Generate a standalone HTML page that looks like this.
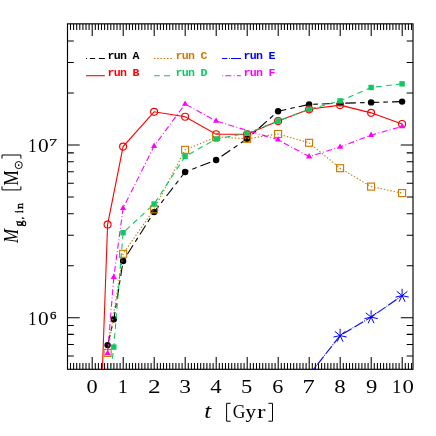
<!DOCTYPE html>
<html><head><meta charset="utf-8"><title>plot</title>
<style>html,body{margin:0;padding:0;background:#fff;}svg{display:block;will-change:transform;}text{font-family:"Liberation Serif",serif;fill:#000;}.m{font-family:"Liberation Mono",monospace;font-weight:bold;font-size:11.6px;letter-spacing:-0.72px;}</style>
</head><body>
<svg width="436" height="436" viewBox="0 0 436 436">
<rect x="0" y="0" width="436" height="436" fill="#fff"/>
<defs><clipPath id="c"><rect x="67.50" y="23.85" width="345.50" height="345.45"/></clipPath></defs>
<path d="M70.50 23.85v6.20M70.50 369.30v-6.20M73.60 23.85v6.20M73.60 369.30v-6.20M76.70 23.85v6.20M76.70 369.30v-6.20M79.80 23.85v6.20M79.80 369.30v-6.20M82.90 23.85v6.20M82.90 369.30v-6.20M86.00 23.85v6.20M86.00 369.30v-6.20M89.10 23.85v6.20M89.10 369.30v-6.20M92.20 23.85v12.20M92.20 369.30v-12.20M95.30 23.85v6.20M95.30 369.30v-6.20M98.40 23.85v6.20M98.40 369.30v-6.20M101.50 23.85v6.20M101.50 369.30v-6.20M104.60 23.85v6.20M104.60 369.30v-6.20M107.70 23.85v6.20M107.70 369.30v-6.20M110.80 23.85v6.20M110.80 369.30v-6.20M113.90 23.85v6.20M113.90 369.30v-6.20M117.00 23.85v6.20M117.00 369.30v-6.20M120.10 23.85v6.20M120.10 369.30v-6.20M123.20 23.85v12.20M123.20 369.30v-12.20M126.30 23.85v6.20M126.30 369.30v-6.20M129.40 23.85v6.20M129.40 369.30v-6.20M132.50 23.85v6.20M132.50 369.30v-6.20M135.60 23.85v6.20M135.60 369.30v-6.20M138.70 23.85v6.20M138.70 369.30v-6.20M141.80 23.85v6.20M141.80 369.30v-6.20M144.90 23.85v6.20M144.90 369.30v-6.20M148.00 23.85v6.20M148.00 369.30v-6.20M151.10 23.85v6.20M151.10 369.30v-6.20M154.20 23.85v12.20M154.20 369.30v-12.20M157.30 23.85v6.20M157.30 369.30v-6.20M160.40 23.85v6.20M160.40 369.30v-6.20M163.50 23.85v6.20M163.50 369.30v-6.20M166.60 23.85v6.20M166.60 369.30v-6.20M169.70 23.85v6.20M169.70 369.30v-6.20M172.80 23.85v6.20M172.80 369.30v-6.20M175.90 23.85v6.20M175.90 369.30v-6.20M179.00 23.85v6.20M179.00 369.30v-6.20M182.10 23.85v6.20M182.10 369.30v-6.20M185.20 23.85v12.20M185.20 369.30v-12.20M188.30 23.85v6.20M188.30 369.30v-6.20M191.40 23.85v6.20M191.40 369.30v-6.20M194.50 23.85v6.20M194.50 369.30v-6.20M197.60 23.85v6.20M197.60 369.30v-6.20M200.70 23.85v6.20M200.70 369.30v-6.20M203.80 23.85v6.20M203.80 369.30v-6.20M206.90 23.85v6.20M206.90 369.30v-6.20M210.00 23.85v6.20M210.00 369.30v-6.20M213.10 23.85v6.20M213.10 369.30v-6.20M216.20 23.85v12.20M216.20 369.30v-12.20M219.30 23.85v6.20M219.30 369.30v-6.20M222.40 23.85v6.20M222.40 369.30v-6.20M225.50 23.85v6.20M225.50 369.30v-6.20M228.60 23.85v6.20M228.60 369.30v-6.20M231.70 23.85v6.20M231.70 369.30v-6.20M234.80 23.85v6.20M234.80 369.30v-6.20M237.90 23.85v6.20M237.90 369.30v-6.20M241.00 23.85v6.20M241.00 369.30v-6.20M244.10 23.85v6.20M244.10 369.30v-6.20M247.20 23.85v12.20M247.20 369.30v-12.20M250.30 23.85v6.20M250.30 369.30v-6.20M253.40 23.85v6.20M253.40 369.30v-6.20M256.50 23.85v6.20M256.50 369.30v-6.20M259.60 23.85v6.20M259.60 369.30v-6.20M262.70 23.85v6.20M262.70 369.30v-6.20M265.80 23.85v6.20M265.80 369.30v-6.20M268.90 23.85v6.20M268.90 369.30v-6.20M272.00 23.85v6.20M272.00 369.30v-6.20M275.10 23.85v6.20M275.10 369.30v-6.20M278.20 23.85v12.20M278.20 369.30v-12.20M281.30 23.85v6.20M281.30 369.30v-6.20M284.40 23.85v6.20M284.40 369.30v-6.20M287.50 23.85v6.20M287.50 369.30v-6.20M290.60 23.85v6.20M290.60 369.30v-6.20M293.70 23.85v6.20M293.70 369.30v-6.20M296.80 23.85v6.20M296.80 369.30v-6.20M299.90 23.85v6.20M299.90 369.30v-6.20M303.00 23.85v6.20M303.00 369.30v-6.20M306.10 23.85v6.20M306.10 369.30v-6.20M309.20 23.85v12.20M309.20 369.30v-12.20M312.30 23.85v6.20M312.30 369.30v-6.20M315.40 23.85v6.20M315.40 369.30v-6.20M318.50 23.85v6.20M318.50 369.30v-6.20M321.60 23.85v6.20M321.60 369.30v-6.20M324.70 23.85v6.20M324.70 369.30v-6.20M327.80 23.85v6.20M327.80 369.30v-6.20M330.90 23.85v6.20M330.90 369.30v-6.20M334.00 23.85v6.20M334.00 369.30v-6.20M337.10 23.85v6.20M337.10 369.30v-6.20M340.20 23.85v12.20M340.20 369.30v-12.20M343.30 23.85v6.20M343.30 369.30v-6.20M346.40 23.85v6.20M346.40 369.30v-6.20M349.50 23.85v6.20M349.50 369.30v-6.20M352.60 23.85v6.20M352.60 369.30v-6.20M355.70 23.85v6.20M355.70 369.30v-6.20M358.80 23.85v6.20M358.80 369.30v-6.20M361.90 23.85v6.20M361.90 369.30v-6.20M365.00 23.85v6.20M365.00 369.30v-6.20M368.10 23.85v6.20M368.10 369.30v-6.20M371.20 23.85v12.20M371.20 369.30v-12.20M374.30 23.85v6.20M374.30 369.30v-6.20M377.40 23.85v6.20M377.40 369.30v-6.20M380.50 23.85v6.20M380.50 369.30v-6.20M383.60 23.85v6.20M383.60 369.30v-6.20M386.70 23.85v6.20M386.70 369.30v-6.20M389.80 23.85v6.20M389.80 369.30v-6.20M392.90 23.85v6.20M392.90 369.30v-6.20M396.00 23.85v6.20M396.00 369.30v-6.20M399.10 23.85v6.20M399.10 369.30v-6.20M402.20 23.85v12.20M402.20 369.30v-12.20M405.30 23.85v6.20M405.30 369.30v-6.20M408.40 23.85v6.20M408.40 369.30v-6.20M411.50 23.85v6.20M411.50 369.30v-6.20M67.50 355.96h6.30M413.00 355.96h-6.30M67.50 344.40h6.30M413.00 344.40h-6.30M67.50 334.39h6.30M413.00 334.39h-6.30M67.50 325.55h6.30M413.00 325.55h-6.30M67.50 317.65h12.20M413.00 317.65h-12.20M67.50 265.66h6.30M413.00 265.66h-6.30M67.50 235.25h6.30M413.00 235.25h-6.30M67.50 213.67h6.30M413.00 213.67h-6.30M67.50 196.94h6.30M413.00 196.94h-6.30M67.50 183.26h6.30M413.00 183.26h-6.30M67.50 171.70h6.30M413.00 171.70h-6.30M67.50 161.69h6.30M413.00 161.69h-6.30M67.50 152.85h6.30M413.00 152.85h-6.30M67.50 144.95h12.20M413.00 144.95h-12.20M67.50 92.96h6.30M413.00 92.96h-6.30M67.50 62.55h6.30M413.00 62.55h-6.30M67.50 40.97h6.30M413.00 40.97h-6.30" stroke="#000" stroke-width="1.05" fill="none"/>
<rect x="67.50" y="23.85" width="345.50" height="345.45" fill="none" stroke="#000" stroke-width="1.15"/>
<g clip-path="url(#c)">
<polyline points="107.60,345.10 113.80,319.30 123.10,261.00 154.10,212.10 185.10,172.00 216.10,160.00 247.10,138.80 278.10,111.20 309.10,104.40 340.10,103.30 371.10,102.40 402.10,101.60" fill="none" stroke="#000000" stroke-width="1.10" stroke-dasharray="10.6 4.1 4.6 4.1"/>
<circle cx="107.60" cy="345.10" r="3.2" fill="#000000"/>
<circle cx="113.80" cy="319.30" r="3.2" fill="#000000"/>
<circle cx="123.10" cy="261.00" r="3.2" fill="#000000"/>
<circle cx="154.10" cy="212.10" r="3.2" fill="#000000"/>
<circle cx="185.10" cy="172.00" r="3.2" fill="#000000"/>
<circle cx="216.10" cy="160.00" r="3.2" fill="#000000"/>
<circle cx="247.10" cy="138.80" r="3.2" fill="#000000"/>
<circle cx="278.10" cy="111.20" r="3.2" fill="#000000"/>
<circle cx="309.10" cy="104.40" r="3.2" fill="#000000"/>
<circle cx="340.10" cy="103.30" r="3.2" fill="#000000"/>
<circle cx="371.10" cy="102.40" r="3.2" fill="#000000"/>
<circle cx="402.10" cy="101.60" r="3.2" fill="#000000"/>
<polyline points="101.40,397.70 107.60,224.60 123.10,146.60 154.10,111.80 185.10,116.70 216.10,134.20 247.10,134.30 278.10,121.10 309.10,109.30 340.10,105.10 371.10,112.85 402.10,124.00" fill="none" stroke="#ff0000" stroke-width="1.10"/>
<circle cx="107.60" cy="224.60" r="3.5" fill="none" stroke="#ff0000" stroke-width="1.15"/>
<circle cx="123.10" cy="146.60" r="3.5" fill="none" stroke="#ff0000" stroke-width="1.15"/>
<circle cx="154.10" cy="111.80" r="3.5" fill="none" stroke="#ff0000" stroke-width="1.15"/>
<circle cx="185.10" cy="116.70" r="3.5" fill="none" stroke="#ff0000" stroke-width="1.15"/>
<circle cx="216.10" cy="134.20" r="3.5" fill="none" stroke="#ff0000" stroke-width="1.15"/>
<circle cx="247.10" cy="134.30" r="3.5" fill="none" stroke="#ff0000" stroke-width="1.15"/>
<circle cx="278.10" cy="121.10" r="3.5" fill="none" stroke="#ff0000" stroke-width="1.15"/>
<circle cx="309.10" cy="109.30" r="3.5" fill="none" stroke="#ff0000" stroke-width="1.15"/>
<circle cx="340.10" cy="105.10" r="3.5" fill="none" stroke="#ff0000" stroke-width="1.15"/>
<circle cx="371.10" cy="112.85" r="3.5" fill="none" stroke="#ff0000" stroke-width="1.15"/>
<circle cx="402.10" cy="124.00" r="3.5" fill="none" stroke="#ff0000" stroke-width="1.15"/>
<polyline points="107.60,352.90 123.10,253.80 154.10,209.30 185.10,149.85 216.10,137.00 247.10,138.80 278.10,134.00 309.10,142.80 340.10,168.20 371.10,186.60 402.10,193.05" fill="none" stroke="#cc7a00" stroke-width="1.10" stroke-dasharray="1.4 1.9"/>
<rect x="104.10" y="349.40" width="7.00" height="7.00" fill="none" stroke="#cc7a00" stroke-width="1.15"/>
<rect x="119.60" y="250.30" width="7.00" height="7.00" fill="none" stroke="#cc7a00" stroke-width="1.15"/>
<rect x="150.60" y="205.80" width="7.00" height="7.00" fill="none" stroke="#cc7a00" stroke-width="1.15"/>
<rect x="181.60" y="146.35" width="7.00" height="7.00" fill="none" stroke="#cc7a00" stroke-width="1.15"/>
<rect x="212.60" y="133.50" width="7.00" height="7.00" fill="none" stroke="#cc7a00" stroke-width="1.15"/>
<rect x="243.60" y="135.30" width="7.00" height="7.00" fill="none" stroke="#cc7a00" stroke-width="1.15"/>
<rect x="274.60" y="130.50" width="7.00" height="7.00" fill="none" stroke="#cc7a00" stroke-width="1.15"/>
<rect x="305.60" y="139.30" width="7.00" height="7.00" fill="none" stroke="#cc7a00" stroke-width="1.15"/>
<rect x="336.60" y="164.70" width="7.00" height="7.00" fill="none" stroke="#cc7a00" stroke-width="1.15"/>
<rect x="367.60" y="183.10" width="7.00" height="7.00" fill="none" stroke="#cc7a00" stroke-width="1.15"/>
<rect x="398.60" y="189.55" width="7.00" height="7.00" fill="none" stroke="#cc7a00" stroke-width="1.15"/>
<polyline points="107.60,396.00 113.80,347.10 123.10,232.70 154.10,204.00 185.10,156.40 216.10,139.00 247.10,133.15 278.10,121.10 309.10,109.30 340.10,100.90 371.10,87.50 402.10,83.85" fill="none" stroke="#10c862" stroke-width="1.10" stroke-dasharray="5.7 4.3" stroke-dashoffset="2.4"/>
<rect x="111.10" y="344.40" width="5.40" height="5.40" fill="#10c862"/>
<rect x="120.40" y="230.00" width="5.40" height="5.40" fill="#10c862"/>
<rect x="151.40" y="201.30" width="5.40" height="5.40" fill="#10c862"/>
<rect x="182.40" y="153.70" width="5.40" height="5.40" fill="#10c862"/>
<rect x="213.40" y="136.30" width="5.40" height="5.40" fill="#10c862"/>
<rect x="244.40" y="130.45" width="5.40" height="5.40" fill="#10c862"/>
<rect x="275.40" y="118.40" width="5.40" height="5.40" fill="#10c862"/>
<rect x="306.40" y="106.60" width="5.40" height="5.40" fill="#10c862"/>
<rect x="337.40" y="98.20" width="5.40" height="5.40" fill="#10c862"/>
<rect x="368.40" y="84.80" width="5.40" height="5.40" fill="#10c862"/>
<rect x="399.40" y="81.15" width="5.40" height="5.40" fill="#10c862"/>
<polyline points="309.10,375.10 340.10,335.55 371.10,317.10 402.10,295.60" fill="none" stroke="#0000ff" stroke-width="1.10" stroke-dasharray="10.1 1.2 0.9 1.2"/>
<path d="M340.10 335.55L340.10 328.75M340.10 335.55L334.78 331.31M340.10 335.55L333.47 337.06M340.10 335.55L337.15 341.68M340.10 335.55L343.05 341.68M340.10 335.55L346.73 337.06M340.10 335.55L345.42 331.31" stroke="#0000ff" stroke-width="1.0" fill="none"/>
<path d="M371.10 317.10L371.10 310.30M371.10 317.10L365.78 312.86M371.10 317.10L364.47 318.61M371.10 317.10L368.15 323.23M371.10 317.10L374.05 323.23M371.10 317.10L377.73 318.61M371.10 317.10L376.42 312.86" stroke="#0000ff" stroke-width="1.0" fill="none"/>
<path d="M402.10 295.60L402.10 288.80M402.10 295.60L396.78 291.36M402.10 295.60L395.47 297.11M402.10 295.60L399.15 301.73M402.10 295.60L405.05 301.73M402.10 295.60L408.73 297.11M402.10 295.60L407.42 291.36" stroke="#0000ff" stroke-width="1.0" fill="none"/>
<polyline points="107.60,353.40 113.80,277.20 123.10,208.20 154.10,146.10 185.10,104.00 216.10,121.00 278.10,139.80 309.10,156.60 340.10,147.00 371.10,135.10 402.10,126.50" fill="none" stroke="#ff00ff" stroke-width="1.10" stroke-dasharray="6 2.4 0.9 2.4"/>
<path d="M107.60 349.82L110.70 355.19L104.50 355.19Z" fill="#ff00ff"/>
<path d="M113.80 273.62L116.90 278.99L110.70 278.99Z" fill="#ff00ff"/>
<path d="M123.10 204.62L126.20 209.99L120.00 209.99Z" fill="#ff00ff"/>
<path d="M154.10 142.52L157.20 147.89L151.00 147.89Z" fill="#ff00ff"/>
<path d="M185.10 100.42L188.20 105.79L182.00 105.79Z" fill="#ff00ff"/>
<path d="M216.10 117.42L219.20 122.79L213.00 122.79Z" fill="#ff00ff"/>
<path d="M278.10 136.22L281.20 141.59L275.00 141.59Z" fill="#ff00ff"/>
<path d="M309.10 153.02L312.20 158.39L306.00 158.39Z" fill="#ff00ff"/>
<path d="M340.10 143.42L343.20 148.79L337.00 148.79Z" fill="#ff00ff"/>
<path d="M371.10 131.52L374.20 136.89L368.00 136.89Z" fill="#ff00ff"/>
<path d="M402.10 122.92L405.20 128.29L399.00 128.29Z" fill="#ff00ff"/>
</g>
<path d="M86.06 58.53H87.00M89.98 58.53H95.14M98.93 58.53H104.90" stroke="#000000" stroke-width="1.1" fill="none"/>
<path d="M86.06 75.70H104.80" stroke="#ff0000" stroke-width="1.1" fill="none"/>
<path d="M153.93 58.53H155.43M157.21 58.53H158.71M160.49 58.53H161.99M163.77 58.53H165.27M167.05 58.53H168.55M170.33 58.53H171.83" stroke="#cc7a00" stroke-width="1.1" fill="none"/>
<path d="M154.06 75.70H159.84M163.97 75.70H170.00" stroke="#10c862" stroke-width="1.1" fill="none"/>
<path d="M222.06 58.53H227.36M229.10 58.53H230.00M231.00 58.53H240.90" stroke="#0000ff" stroke-width="1.1" fill="none"/>
<path d="M222.25 75.70H223.15M225.30 75.70H231.30M233.75 75.70H234.65M237.00 75.70H240.90" stroke="#ff00ff" stroke-width="1.1" fill="none"/>
<text class="m" transform="translate(107.50 59.05) scale(1 1)" style="fill:#000000" xml:space="preserve">run A</text>
<text class="m" transform="translate(107.50 76.25) scale(1 1)" style="fill:#ff0000" xml:space="preserve">run B</text>
<text class="m" transform="translate(175.50 59.05) scale(1 1)" style="fill:#cc7a00" xml:space="preserve">run C</text>
<text class="m" transform="translate(175.50 76.25) scale(1 1)" style="fill:#10c862" xml:space="preserve">run D</text>
<text class="m" transform="translate(243.50 59.05) scale(1 1)" style="fill:#0000ff" xml:space="preserve">run E</text>
<text class="m" transform="translate(243.50 76.25) scale(1 1)" style="fill:#ff00ff" xml:space="preserve">run F</text>
<text transform="translate(86.46 392.71) scale(0.2235 0.1911)" font-size="100">0</text>
<text transform="translate(118.11 392.90) scale(0.1929 0.1955)" font-size="100">1</text>
<text transform="translate(147.96 392.90) scale(0.2525 0.1947)" font-size="100">2</text>
<text transform="translate(179.28 392.71) scale(0.2352 0.1918)" font-size="100">3</text>
<text transform="translate(210.24 392.90) scale(0.2280 0.1962)" font-size="100">4</text>
<text transform="translate(241.00 392.71) scale(0.2261 0.1940)" font-size="100">5</text>
<text transform="translate(272.26 392.71) scale(0.2222 0.1918)" font-size="100">6</text>
<text transform="translate(302.41 392.90) scale(0.2444 0.1969)" font-size="100">7</text>
<text transform="translate(334.34 392.71) scale(0.2282 0.1911)" font-size="100">8</text>
<text transform="translate(365.96 392.71) scale(0.2269 0.1918)" font-size="100">9</text>
<text transform="translate(391.96 392.90) scale(0.1872 0.1955)" font-size="100">1</text>
<text transform="translate(402.44 392.71) scale(0.2282 0.1911)" font-size="100">0</text>
<text transform="translate(204.18 417.88) scale(0.2495 0.2157)" font-size="100" font-style="italic">t</text>
<path d="M230.60 403.30H226.60V421.20H230.60" fill="none" stroke="#000" stroke-width="1.00"/>
<text transform="translate(232.65 418.21) scale(0.1746 0.1874)" font-size="100">G</text>
<text transform="translate(245.44 418.40) scale(0.2093 0.1956)" font-size="100">y</text>
<text transform="translate(256.89 418.20) scale(0.2557 0.1872)" font-size="100">r</text>
<path d="M268.40 403.30H272.50V421.20H268.40" fill="none" stroke="#000" stroke-width="1.00"/>
<text transform="translate(28.26 324.60) scale(0.1645 0.1939)" font-size="100">1</text>
<text transform="translate(38.10 324.51) scale(0.2141 0.1911)" font-size="100">0</text>
<text transform="translate(50.05 318.59) scale(0.1287 0.1100)" font-size="100" stroke="#000" stroke-width="2.5" stroke-linejoin="round">6</text>
<text transform="translate(28.26 151.70) scale(0.1645 0.1939)" font-size="100">1</text>
<text transform="translate(38.10 151.61) scale(0.2141 0.1911)" font-size="100">0</text>
<text transform="translate(49.06 145.80) scale(0.1605 0.1130)" font-size="100" stroke="#000" stroke-width="2.2" stroke-linejoin="round">7</text>
<g transform="translate(17.9 243.6) rotate(-90)">
<text transform="translate(0.71 0.00) scale(0.1697 0.2092)" font-size="100" font-style="italic">M</text>
<text transform="translate(16.99 5.21) scale(0.1189 0.1159)" font-size="100" stroke="#000" stroke-width="3.8" stroke-linejoin="round">g</text>
<text transform="translate(24.45 4.62) scale(0.0933 0.0893)" font-size="100" stroke="#000" stroke-width="4.9" stroke-linejoin="round">,</text>
<text transform="translate(30.84 4.80) scale(0.0792 0.1147)" font-size="100" stroke="#000" stroke-width="4.6" stroke-linejoin="round">i</text>
<text transform="translate(34.53 4.80) scale(0.1189 0.1106)" font-size="100" stroke="#000" stroke-width="3.9" stroke-linejoin="round">n</text>
<path d="M57.30 -15.90H53.70V3.00H57.30" fill="none" stroke="#000" stroke-width="1.00"/>
<text transform="translate(57.77 -0.20) scale(0.1759 0.2092)" font-size="100">M</text>
<circle cx="78.5" cy="0.8" r="3.55" fill="none" stroke="#000" stroke-width="0.95"/><circle cx="78.5" cy="0.8" r="0.85" fill="#000"/>
<path d="M85.00 -15.90H88.60V3.00H85.00" fill="none" stroke="#000" stroke-width="1.00"/>
</g>
</svg>
</body></html>
